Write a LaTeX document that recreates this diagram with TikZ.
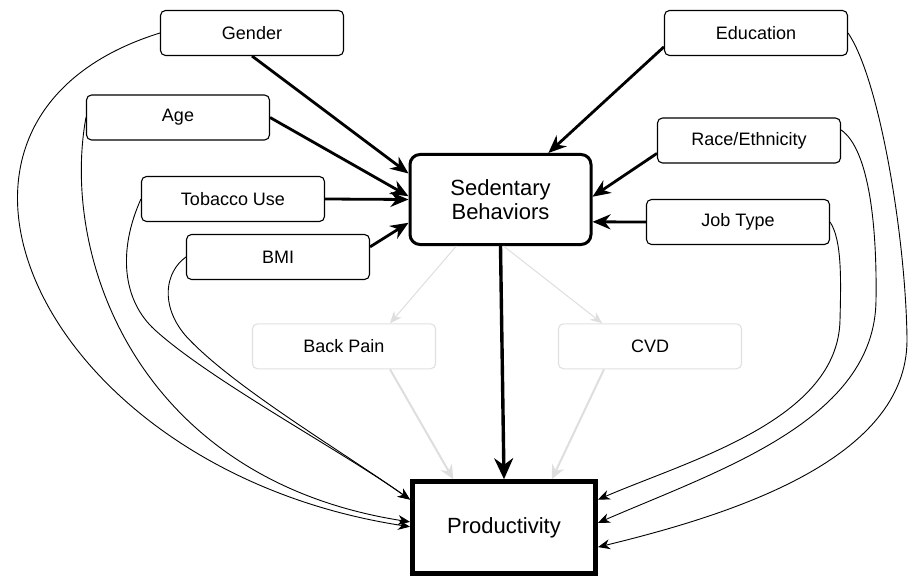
\documentclass[tikz,border=0pt]{standalone}
\usepackage{fontspec}
\setmainfont{Liberation Sans}
\usetikzlibrary{arrows.meta,calc}
\begin{document}
\begin{tikzpicture}[x=1pt,y=-1pt,
  factor/.style={draw, rounded corners=5pt, line width=1.1pt, minimum width=183pt,
    minimum height=45pt, inner sep=0pt, font=\fontsize{18}{20}\selectfont},
  mediator/.style={factor, draw=black!12},
  central/.style={draw, rounded corners=10pt, line width=3pt, minimum width=181pt,
    minimum height=90pt, inner sep=0pt, align=center, font=\fontsize{22}{24}\selectfont},
  outcome/.style={draw, line width=5pt, minimum width=183pt, minimum height=92pt,
    inner sep=0pt, font=\fontsize{22}{24}\selectfont},
  strong/.style={line width=2.8pt, -{Stealth[length=18pt,width=15pt]}},
  confound/.style={line width=0.9pt, -{Stealth[length=12pt,width=10pt]}},
  faint/.style={draw=black!13, line width=1pt, -{Stealth[length=12pt,width=10pt]}},
  faintbold/.style={draw=black!13, line width=2pt, -{Stealth[length=14pt,width=13pt]}}
]
\useasboundingbox (0,0) rectangle (909,577);

% covariates
\node[factor] (gender)  at (252,33)    {Gender};
\node[factor] (age)     at (178,117.5) {Age};
\node[factor] (tobacco) at (233,199)   {Tobacco Use};
\node[factor] (bmi)     at (278,257)   {BMI};
\node[factor] (edu)     at (756,33)    {Education};
\node[factor] (race)    at (749,140.5) {Race/Ethnicity};
\node[factor] (job)     at (738,222)   {Job Type};

% exposure, mediators, outcome
\node[central] (sed) at (500.5,199.5) {Sedentary\\Behaviors};
\node[mediator] (back) at (344,346.3) {Back Pain};
\node[mediator] (cvd)  at (650,346.3) {CVD};
\node[outcome] (prod) at (504,527.7) {Productivity};

% arrival points on the exposure box
\coordinate (sGender) at ($(sed.north west)!0.22!(sed.south west)$);
\coordinate (sAge)    at ($(sed.north west)!0.465!(sed.south west)$);
\coordinate (sBmi)    at ($(sed.north west)!0.75!(sed.south west)$);
\coordinate (sEdu)    at ($(sed.north west)!0.76!(sed.north east)$);
\coordinate (sRace)   at ($(sed.north east)!0.47!(sed.south east)$);
\coordinate (sJob)    at ($(sed.north east)!0.74!(sed.south east)$);

% arrival points on the outcome box
\coordinate (pL1) at ($(prod.north west)!0.21!(prod.south west)$);
\coordinate (pL2) at ($(prod.north west)!0.44!(prod.south west)$);
\coordinate (pL3) at ($(prod.north west)!0.49!(prod.south west)$);
\coordinate (pR1) at ($(prod.north east)!0.21!(prod.south east)$);
\coordinate (pR2) at ($(prod.north east)!0.45!(prod.south east)$);
\coordinate (pR3) at ($(prod.north east)!0.70!(prod.south east)$);

% mediated paths (faded)
\draw[faint] ($(sed.south west)!0.26!(sed.south east)$) -- ($(back.north west)!0.75!(back.north east)$);
\draw[faint] ($(sed.south)+(3,0)$) -- ($(cvd.north west)!0.24!(cvd.north east)$);
\draw[faintbold] ($(back.south west)!0.75!(back.south east)$) -- ($(prod.north west)!0.23!(prod.north east)$);
\draw[faintbold] ($(cvd.south west)!0.25!(cvd.south east)$) -- ($(prod.north west)!0.755!(prod.north east)$);

% covariates -> exposure
\draw[strong] (gender.south) -- (sGender);
\draw[strong] (age.east) -- (sAge);
\draw[strong] (tobacco.east) -- (sed.west);
\draw[strong] ($(bmi.north east)!0.28!(bmi.south east)$) -- (sBmi);
\draw[strong] ($(edu.north west)!0.8!(edu.south west)$) -- (sEdu);
\draw[strong] ($(race.north west)!0.78!(race.south west)$) -- (sRace);
\draw[strong] (job.west) -- (sJob);

% exposure -> outcome
\draw[line width=3.4pt, -{Stealth[length=21pt,width=19pt]}] (sed.south) -- (prod.north);

% covariates -> outcome
\draw[confound] (gender.west) .. controls (-120,120) and (40,470) .. (pL3);
\draw[confound] (age.west) .. controls (60,260) and (140,480) .. (pL2);
\draw[confound] (tobacco.west) .. controls (118,250) and (122,300) .. (155,330)
  .. controls (210,380) and (340,450) .. (pL1);
\draw[confound] (bmi.west) .. controls (165,272) and (160,305) .. (185,335)
  .. controls (230,385) and (340,450) .. (pL1);
\draw[confound] (job.east) .. controls (842,240) and (841,280) .. (840,320)
  .. controls (838,420) and (690,460) .. (pR1);
\draw[confound] ($(race.north east)!0.27!(race.south east)$) .. controls (870,150) and (877,230) .. (876,300)
  .. controls (875,420) and (720,470) .. (pR2);
\draw[confound] (edu.east) .. controls (880,80) and (906,240) .. (907,340)
  .. controls (907,460) and (730,515) .. (pR3);
\end{tikzpicture}
\end{document}
